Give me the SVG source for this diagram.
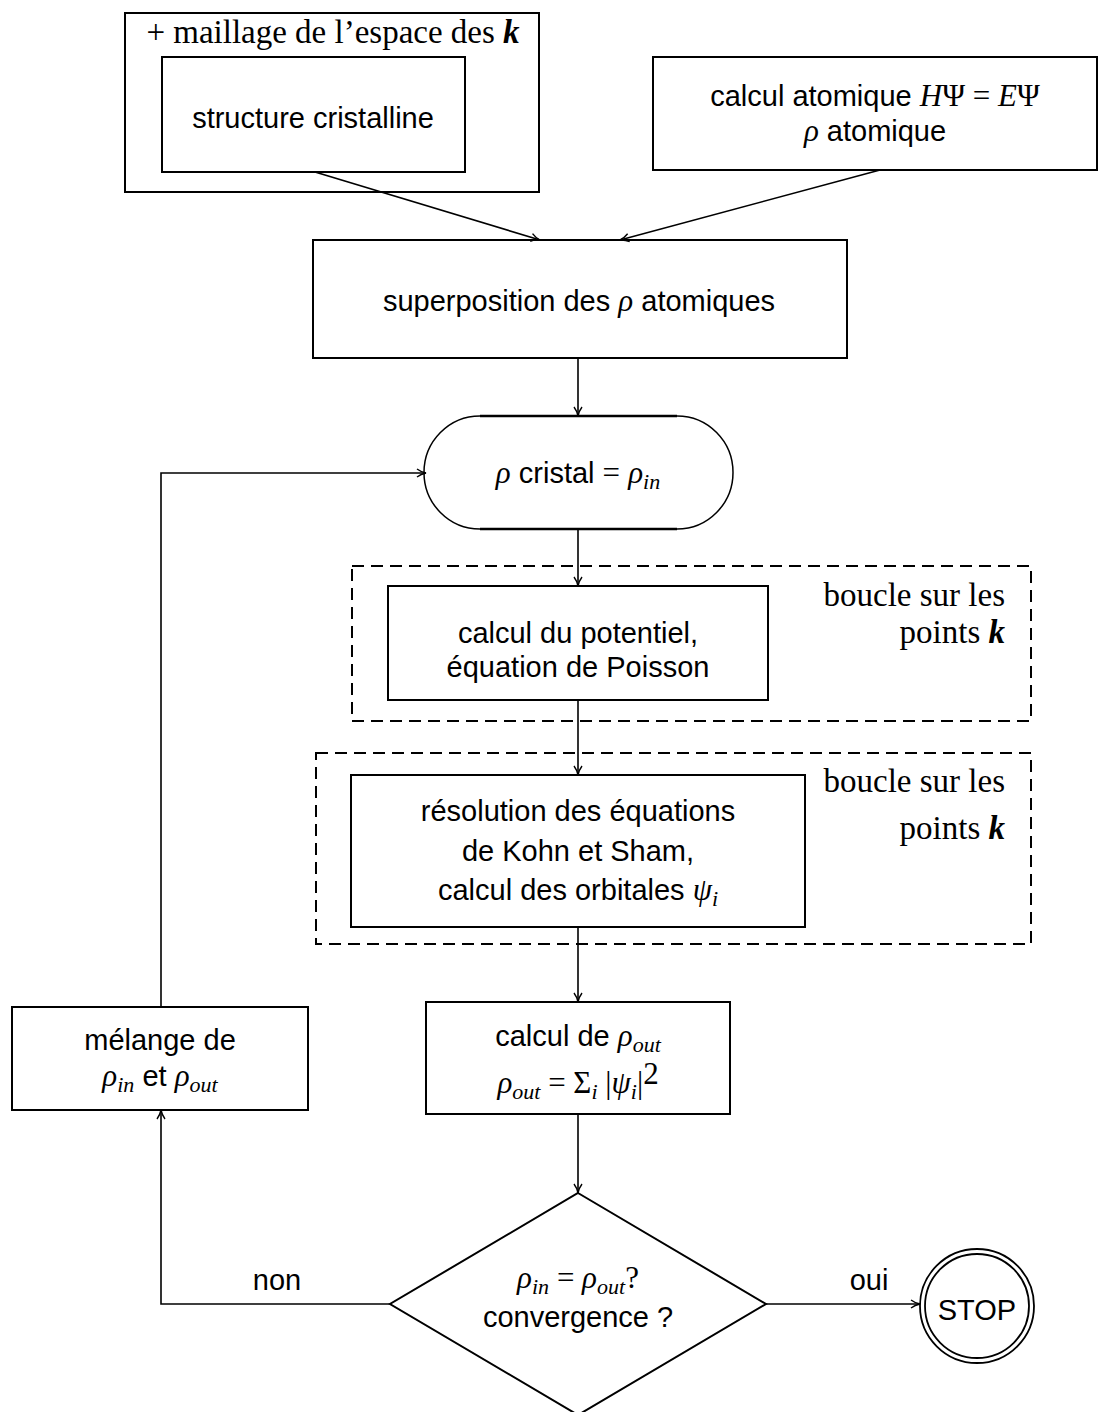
<svg xmlns="http://www.w3.org/2000/svg" width="1098" height="1412" viewBox="0 0 1098 1412">
<style>
.box{fill:#fff;stroke:#000;stroke-width:2}
.dash{fill:none;stroke:#000;stroke-width:2;stroke-dasharray:12 7}
.con{fill:none;stroke:#000;stroke-width:1.6}
.sans{font-family:"Liberation Sans","DejaVu Sans",sans-serif;font-size:29px;fill:#000}
.serif{font-family:"Liberation Serif","DejaVu Serif",serif;font-size:33px;fill:#000}
.mi{font-family:"Liberation Serif","DejaVu Serif",serif;font-style:italic;font-size:31px}
.mr{font-family:"Liberation Serif","DejaVu Serif",serif;font-size:31px}
.bk{font-family:"Liberation Serif","DejaVu Serif",serif;font-style:italic;font-weight:bold}
.sub{font-family:"Liberation Serif","DejaVu Serif",serif;font-style:italic;font-size:22px}
</style>
<defs>
<marker id="arr" markerWidth="12" markerHeight="10" refX="10" refY="5" orient="auto" markerUnits="userSpaceOnUse">
<path d="M1,1 Q5,4 10,5 Q5,6 1,9" fill="none" stroke="#000" stroke-width="1.4"/>
</marker>
</defs>
<rect width="1098" height="1412" fill="#fff"/>

<g id="n-maillage">
<rect class="box" x="125" y="13" width="414" height="179"/>
<text class="serif" x="333" y="43" text-anchor="middle">+ maillage de l’espace des <tspan class="bk">k</tspan></text>
</g>
<g id="n-structure">
<rect class="box" x="162" y="57" width="303" height="115"/>
<text class="sans" x="313" y="128" text-anchor="middle">structure cristalline</text>
</g>
<g id="n-atomique">
<rect class="box" x="653" y="57" width="444" height="113"/>
<text class="sans" x="875" y="106" text-anchor="middle">calcul atomique <tspan class="mi">H</tspan><tspan class="mr">Ψ = </tspan><tspan class="mi">E</tspan><tspan class="mr">Ψ</tspan></text>
<text class="sans" x="875" y="141" text-anchor="middle"><tspan class="mi">ρ</tspan> atomique</text>
</g>
<g id="n-superposition">
<rect class="box" x="313" y="240" width="534" height="118"/>
<text class="sans" x="579" y="311" text-anchor="middle">superposition des <tspan class="mi">ρ</tspan> atomiques</text>
</g>
<g id="n-cristal">
<path d="M480,416 A56,56.5 0 0 0 480,529 M677,416 A56,56.5 0 0 1 677,529" fill="none" stroke="#000" stroke-width="1.5"/>
<path d="M480,416 H677 M480,529 H677" fill="none" stroke="#000" stroke-width="2.6"/>
<text class="sans" x="578" y="483" text-anchor="middle"><tspan class="mi">ρ</tspan> cristal <tspan class="mr">=</tspan> <tspan class="mi">ρ</tspan><tspan class="sub" dy="6">in</tspan></text>
</g>
<g id="n-boucle1">
<rect class="dash" x="352" y="566" width="679" height="155"/>
<text class="serif" x="1005" y="606" text-anchor="end">boucle sur les</text>
<text class="serif" x="1005" y="643" text-anchor="end">points <tspan class="bk">k</tspan></text>
</g>
<g id="n-potentiel">
<rect class="box" x="388" y="586" width="380" height="114"/>
<text class="sans" x="578" y="643" text-anchor="middle">calcul du potentiel,</text>
<text class="sans" x="578" y="677" text-anchor="middle">équation de Poisson</text>
</g>
<g id="n-boucle2">
<rect class="dash" x="316" y="753" width="715" height="191"/>
<text class="serif" x="1005" y="792" text-anchor="end">boucle sur les</text>
<text class="serif" x="1005" y="839" text-anchor="end">points <tspan class="bk">k</tspan></text>
</g>
<g id="n-kohnsham">
<rect class="box" x="351" y="775" width="454" height="152"/>
<text class="sans" x="578" y="821" text-anchor="middle">résolution des équations</text>
<text class="sans" x="578" y="861" text-anchor="middle">de Kohn et Sham,</text>
<text class="sans" x="578" y="900" text-anchor="middle">calcul des orbitales <tspan class="mi">ψ</tspan><tspan class="sub" dy="6">i</tspan></text>
</g>
<g id="n-rhoout">
<rect class="box" x="426" y="1002" width="304" height="112"/>
<text class="sans" x="578" y="1046" text-anchor="middle">calcul de <tspan class="mi">ρ</tspan><tspan class="sub" dy="6">out</tspan></text>
<text class="sans" x="578" y="1093" text-anchor="middle"><tspan class="mi">ρ</tspan><tspan class="sub" dy="6">out</tspan><tspan class="mr" dy="-6"> = Σ</tspan><tspan class="sub" dy="6">i</tspan><tspan class="mr" dy="-6"> |</tspan><tspan class="mi">ψ</tspan><tspan class="sub" dy="6">i</tspan><tspan class="mr" dy="-6">|</tspan><tspan class="mr" font-size="17" dy="-9">2</tspan></text>
</g>
<g id="n-melange">
<rect class="box" x="12" y="1007" width="296" height="103"/>
<text class="sans" x="160" y="1050" text-anchor="middle">mélange de</text>
<text class="sans" x="160" y="1086" text-anchor="middle"><tspan class="mi">ρ</tspan><tspan class="sub" dy="6">in</tspan><tspan dy="-6"> et </tspan><tspan class="mi">ρ</tspan><tspan class="sub" dy="6">out</tspan></text>
</g>
<g id="n-convergence">
<polygon class="box" points="578,1193 766,1304 578,1415 390,1304"/>
<text class="sans" x="578" y="1288" text-anchor="middle"><tspan class="mi">ρ</tspan><tspan class="sub" dy="6">in</tspan><tspan class="mr" dy="-6"> = </tspan><tspan class="mi">ρ</tspan><tspan class="sub" dy="6">out</tspan><tspan class="mr" dy="-6">?</tspan></text>
<text class="sans" x="578" y="1327" text-anchor="middle">convergence ?</text>
</g>
<g id="n-stop">
<circle cx="977" cy="1306" r="57" fill="#fff" stroke="#000" stroke-width="1.8"/>
<circle cx="977" cy="1306" r="52" fill="none" stroke="#000" stroke-width="1.8"/>
<text class="sans" x="977" y="1320" text-anchor="middle" font-size="37">STOP</text>
</g>

<g id="connectors">
<line class="con" x1="315" y1="172" x2="540" y2="240" marker-end="url(#arr)"/>
<line class="con" x1="880" y1="170" x2="620" y2="240" marker-end="url(#arr)"/>
<line class="con" x1="578" y1="358" x2="578" y2="416" marker-end="url(#arr)"/>
<polyline class="con" points="161,1007 161,473 426,473" marker-end="url(#arr)"/>
<line class="con" x1="578" y1="529" x2="578" y2="586" marker-end="url(#arr)"/>
<line class="con" x1="578" y1="700" x2="578" y2="775" marker-end="url(#arr)"/>
<line class="con" x1="578" y1="927" x2="578" y2="1002" marker-end="url(#arr)"/>
<line class="con" x1="578" y1="1114" x2="578" y2="1193" marker-end="url(#arr)"/>
<polyline class="con" points="390,1304 161,1304 161,1110" marker-end="url(#arr)"/>
<line class="con" x1="766" y1="1304" x2="920" y2="1304" marker-end="url(#arr)"/>
<text class="sans" x="277" y="1290" text-anchor="middle">non</text>
<text class="sans" x="869" y="1290" text-anchor="middle">oui</text>
</g>
</svg>
